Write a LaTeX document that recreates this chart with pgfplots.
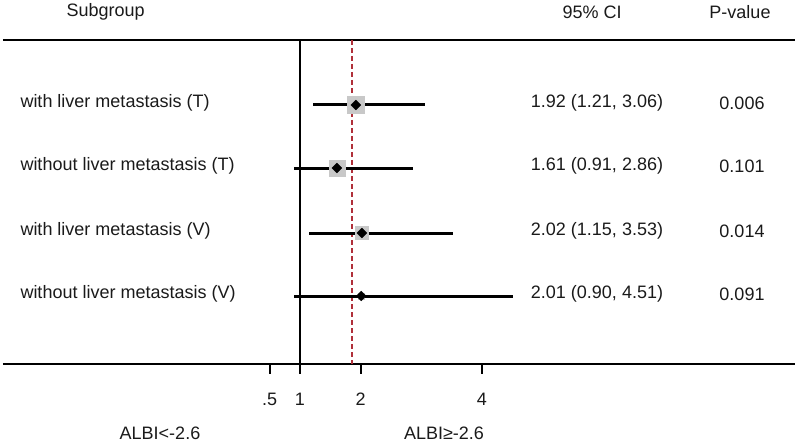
\documentclass[border=0pt]{standalone}
\usepackage{pgfplots}
\pgfplotsset{compat=1.18}
\usepackage{pgfplotstable}
\usepackage{fontspec}
\setmainfont{Liberation Sans}
\definecolor{sqgray}{HTML}{C8C8C8}
\definecolor{refred}{HTML}{B0303A}
\definecolor{txt}{HTML}{1A1A1A}
\pgfplotstableread{
y est lo hi sq
105 1.92 1.21 3.06 8.5
168 1.61 0.91 2.86 8
233 2.02 1.15 3.53 6.5
296 2.01 0.90 4.51 3
}\forestdata
\begin{document}
\begin{tikzpicture}[font=\fontsize{18bp}{22bp}\selectfont, text=txt]
\begin{axis}[
  scale only axis, width=800bp, height=443bp,
  xmin=-3.944, xmax=9.242, ymin=0, ymax=443, y dir=reverse,
  hide axis, clip=false,
]
% frame lines
\draw[line width=2bp, black] (axis cs:-3.895,40) -- (axis cs:9.159,40);
\draw[line width=2bp, black] (axis cs:-3.895,364) -- (axis cs:9.159,364);
\draw[line width=2bp, black] (axis cs:1,40) -- (axis cs:1,364);
\draw[line width=1.5bp, refred, dash pattern=on 5bp off 3bp] (axis cs:1.86,40) -- (axis cs:1.86,364);
% ticks
\draw[line width=1.8bp] (axis cs:0.5,364) -- (axis cs:0.5,374);
\draw[line width=1.8bp] (axis cs:1,364) -- (axis cs:1,374);
\draw[line width=1.8bp] (axis cs:2,364) -- (axis cs:2,374);
\draw[line width=1.8bp] (axis cs:4,364) -- (axis cs:4,374);
\node at (axis cs:0.5,399) {.5};
\node at (axis cs:1,399) {1};
\node at (axis cs:2,399) {2};
\node at (axis cs:4,399) {4};
% squares
\addplot[scatter, only marks, mark=square*,
  scatter/use mapped color={draw=sqgray, fill=sqgray},
  visualization depends on={\thisrow{sq} \as \msize},
  scatter/@pre marker code/.append style={/tikz/mark size=\msize}]
  table[x=est, y=y] {\forestdata};
% CI lines
\addplot[draw=none, mark=none,
  error bars/.cd, x dir=both, x explicit, error mark=none,
  error bar style={line width=3bp, black}]
  table[x=est, y=y,
    x error plus expr=\thisrow{hi}-\thisrow{est},
    x error minus expr=\thisrow{est}-\thisrow{lo}] {\forestdata};
% estimates
\addplot[only marks, mark=square*, mark size=3.5bp, mark options={rotate=45}, black] table[x=est, y=y] {\forestdata};
% headers
\node[anchor=west] at (axis cs:-2.905,12) {Subgroup};
\node at (axis cs:5.814,12) {95\% CI};
\node at (axis cs:8.253,12) {P-value};
% row labels
\node[anchor=west] at (axis cs:-3.664,103) {with liver metastasis (T)};
\node[anchor=west] at (axis cs:-3.664,166) {without liver metastasis (T)};
\node[anchor=west] at (axis cs:-3.664,231) {with liver metastasis (V)};
\node[anchor=west] at (axis cs:-3.664,294) {without liver metastasis (V)};
\node at (axis cs:5.896,103) {1.92 (1.21, 3.06)};
\node at (axis cs:5.896,166) {1.61 (0.91, 2.86)};
\node at (axis cs:5.896,231) {2.02 (1.15, 3.53)};
\node at (axis cs:5.896,294) {2.01 (0.90, 4.51)};
\node at (axis cs:8.286,103) {0.006};
\node at (axis cs:8.286,166) {0.101};
\node at (axis cs:8.286,231) {0.014};
\node at (axis cs:8.286,294) {0.091};
% direction labels
\node at (axis cs:-1.307,433) {ALBI\symbol{"3C}-2.6};
\node at (axis cs:3.374,433) {ALBI\symbol{"2265}-2.6};
\end{axis}
\pgfresetboundingbox
\path (current axis.south west) rectangle (current axis.north east);
\end{tikzpicture}
\end{document}
